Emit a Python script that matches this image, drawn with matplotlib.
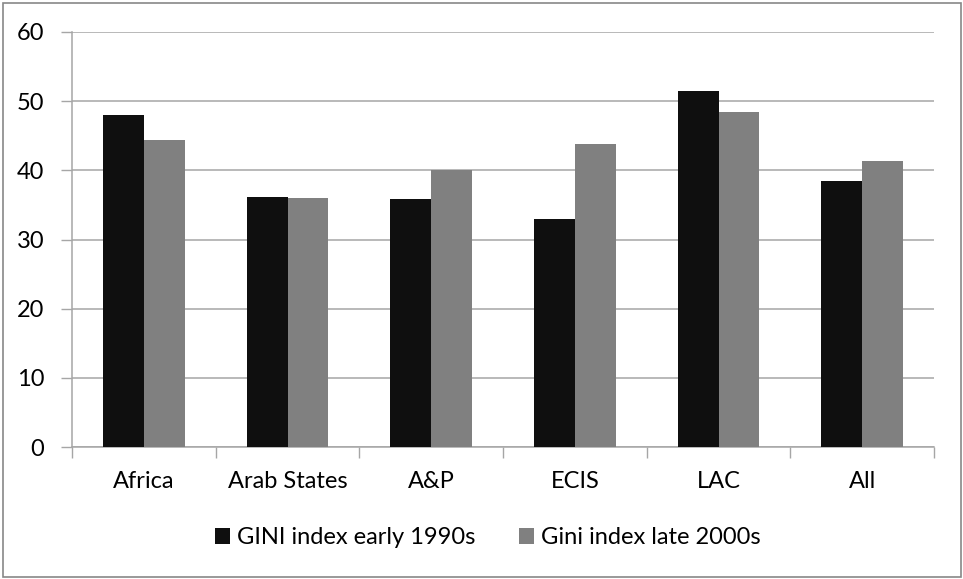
import matplotlib
matplotlib.use("Agg")
import matplotlib.pyplot as plt
import matplotlib.patches as patches
import numpy as np

# Data
regions = ["Africa", "Arab States", "A&P", "ECIS", "LAC", "All"]
gini_early_1990s = [48.0, 36.1, 35.9, 33.0, 51.4, 38.5]
gini_late_2000s = [44.4, 36.0, 40.0, 43.8, 48.4, 41.4]
y_ticks = [0, 10, 20, 30, 40, 50, 60]

plt.rcParams["font.family"] = ["Lato", "DejaVu Sans"]
fs = 17

fig = plt.figure(figsize=(9.63, 5.79), dpi=100)
ax = fig.add_axes([72 / 963, 132 / 579, 862 / 963, 415 / 579])

x = np.arange(len(regions))
w = 0.284
grid_col = "#a6a6a6"

b1 = ax.bar(x - w / 2, gini_early_1990s, w, color="#0f0f0f", zorder=3,
            label="GINI index early 1990s")
b2 = ax.bar(x + w / 2, gini_late_2000s, w, color="#808080", zorder=3,
            label="Gini index late 2000s")

ax.set_xlim(-0.5, len(regions) - 0.5)
ax.set_ylim(0, 60)
ax.set_yticks(y_ticks)
ax.yaxis.grid(True, color=grid_col, linewidth=1.1, zorder=0)
ax.set_axisbelow(True)

# category boundaries as ticks, labels at centers
ax.set_xticks(np.arange(len(regions) + 1) - 0.5)
ax.set_xticklabels([])
ax.set_xticks(x, minor=True)
ax.set_xticklabels(regions, minor=True)
ax.tick_params(axis="x", which="major", length=8, color=grid_col, width=1)
ax.tick_params(axis="x", which="minor", length=0, pad=17, labelsize=fs)
ax.tick_params(axis="y", length=8, color=grid_col, width=1, pad=12, labelsize=fs)

for s in ["top", "right"]:
    ax.spines[s].set_visible(False)
for s in ["left", "bottom"]:
    ax.spines[s].set_color(grid_col)
    ax.spines[s].set_linewidth(1.1)

fig.legend(handles=[b1, b2], loc="center", bbox_to_anchor=(488 / 963, 1 - 538 / 579),
           ncol=2, frameon=False, fontsize=fs, handlelength=0.62, handleheight=0.68,
           handletextpad=0.3, columnspacing=1.85)

# outer chart border
fig.patches.append(patches.Rectangle((2.5 / 963, 2.5 / 579), 958 / 963, 574 / 579,
                                     transform=fig.transFigure, fill=False,
                                     edgecolor="#878787", linewidth=1.2))

fig.savefig("out.png", dpi=100)
